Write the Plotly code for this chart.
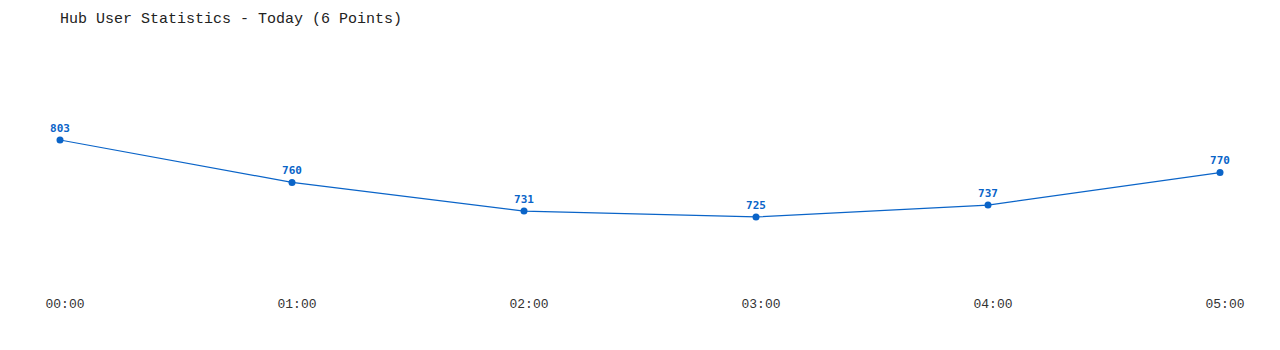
import plotly.graph_objects as go

times = ["00:00", "01:00", "02:00", "03:00", "04:00", "05:00"]
users = [803, 760, 731, 725, 737, 770]

color = "#0a64c8"
fig = go.Figure()
fig.add_trace(go.Scatter(
    x=list(range(len(times))), y=users,
    mode="lines+markers+text",
    line=dict(color=color, width=1.2),
    marker=dict(color=color, size=7),
    text=[str(v) for v in users],
    textposition="top center",
    textfont=dict(family="DejaVu Sans Mono", size=11, color=color, weight="bold"),
    cliponaxis=False,
    hoverinfo="skip",
))
fig.update_layout(
    width=1280, height=350,
    margin=dict(l=60, r=60, t=40, b=60),
    paper_bgcolor="white", plot_bgcolor="white",
    showlegend=False,
    title=dict(text="Hub User Statistics - Today (6 Points)", x=60/1280, xanchor="left",
               y=1-18/350, yanchor="middle",
               font=dict(family="Liberation Mono", size=15, color="#222")),
)
fig.update_xaxes(range=[0, 5], tickvals=list(range(len(times))), ticktext=times,
                 showgrid=False, zeroline=False, showline=False,
                 tickfont=dict(family="Liberation Mono", size=13, color="#333"),
                 ticklabelshift=5, ticklabelstandoff=4)
fig.update_yaxes(range=[651, 904.3], showgrid=False, zeroline=False, showline=False,
                 showticklabels=False, ticks="")
fig.write_html("out.html")
